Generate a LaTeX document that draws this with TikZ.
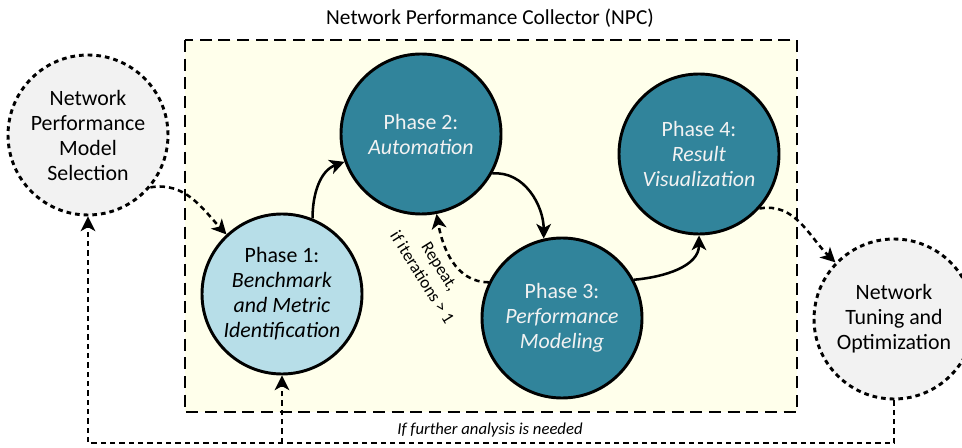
\documentclass[tikz,border=0pt]{standalone}
\usepackage{fontspec}
\setmainfont{Carlito}
\usetikzlibrary{arrows.meta}

\definecolor{phaseteal}{HTML}{31849B}
\definecolor{phaselight}{HTML}{B7DEE8}
\definecolor{phasetext}{HTML}{F2F2F2}
\definecolor{boxyellow}{HTML}{FFFFEB}
\definecolor{outergray}{HTML}{F2F2F2}

\tikzset{
  phasebase/.style={circle, draw=black, line width=2.2pt, minimum size=120pt,
    inner sep=0pt, align=center, font=\fontsize{16.4}{18.75}\selectfont},
  darkphase/.style={phasebase, fill=phaseteal, text=phasetext},
  lightphase/.style={phasebase, fill=phaselight, text=black},
  outerstage/.style={phasebase, fill=outergray, dash pattern=on 3.5pt off 3pt},
  npcbox/.style={draw=black, fill=boxyellow, line width=2.2pt, dash pattern=on 9pt off 5pt},
  flow/.style={line width=1.9pt, -{Stealth[length=11pt,width=11pt,inset=3pt]}},
  dflow/.style={flow, dash pattern=on 4pt off 3pt},
  note/.style={font=\fontsize{12.5}{13}\selectfont\itshape},
}

\begin{document}
\begin{tikzpicture}[x=0.75pt, y=0.75pt]
\useasboundingbox (0,0) rectangle (962,-448);

% collector frame and its title
\draw[npcbox] (185,-40) rectangle (797,-412);
\node[font=\fontsize{16}{18}\selectfont] (title) at (490,-18) {Network Performance Collector (NPC)};

% stages
\node[outerstage] (sel) at (88,-135) {Network\\Performance\\Model\\Selection};
\node[outerstage] (tun) at (894,-319) {Network\\Tuning and\\Optimization};
\node[lightphase] (p1) at (282,-294) {Phase 1:\\\textit{Benchmark}\\\textit{and Metric}\\\textit{Identification}};
\node[darkphase] (p2) at (421,-134) {Phase 2:\\\textit{Automation}};
\node[darkphase] (p3) at (562,-318) {Phase 3:\\\textit{Performance}\\\textit{Modeling}};
\node[darkphase] (p4) at (699,-154) {Phase 4:\\\textit{Result}\\\textit{Visualization}};

% main flow
\draw[dflow] (sel.-40) to[out=10, in=133] (p1.133);
\draw[flow] (p1.68) to[out=90, in=200] (p2.200);
\draw[flow] (p2.-29) to[out=5, in=90] (p3.103);
\draw[dflow] (p3.154) to[out=180, in=-80] (p2.-79);
\draw[flow] (p3.28) to[out=5, in=-90] (p4.south);
\draw[dflow] (p4.-42) to[out=10, in=136] (tun.136);

\node[rotate=-58, align=center, font=\fontsize{13}{15.5}\selectfont] (repeat) at (431,-272)
  {Repeat,\\if iterations > 1};

% feedback loop along the bottom
\coordinate (loopR) at (894,-443);
\coordinate (loopL) at (88,-443);
\coordinate (loopM) at (282,-443);
\draw[dflow] (tun.south) -- (loopR) -- (loopL) -- (sel.south);
\draw[dflow] (loopM) -- (p1.south);
\node[note] (again) at (490,-430) {If further analysis is needed};
\end{tikzpicture}
\end{document}
